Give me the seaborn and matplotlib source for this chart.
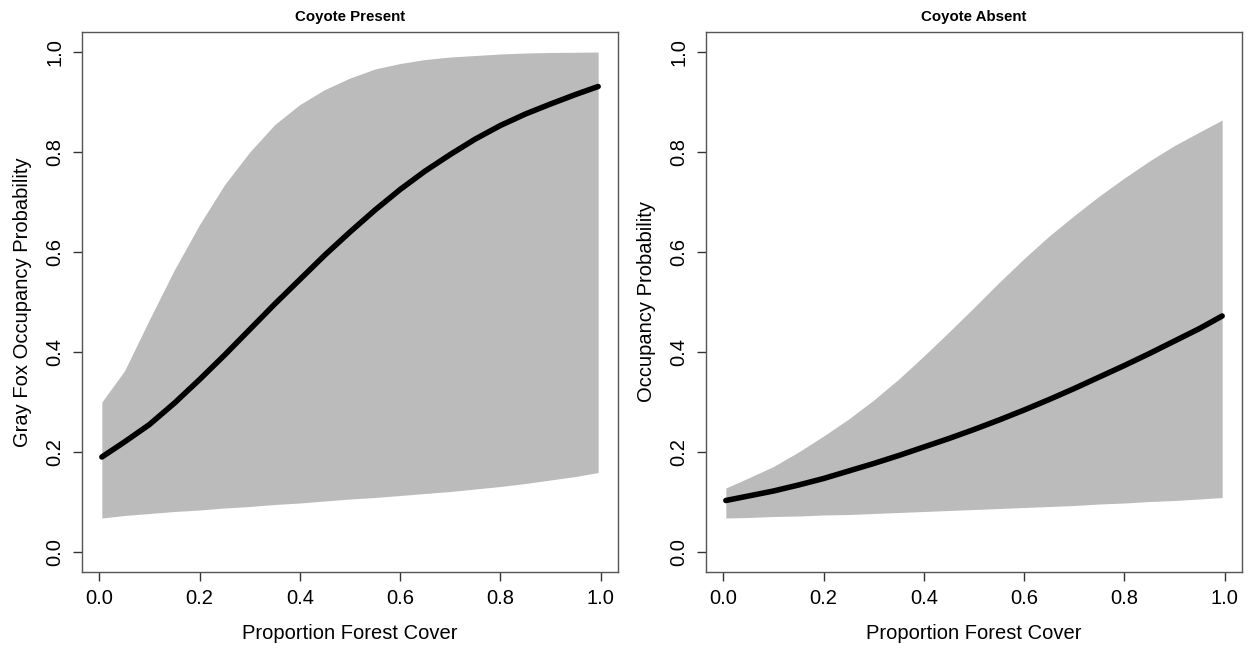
import numpy as np
import pandas as pd
import matplotlib
matplotlib.use("Agg")
import matplotlib.pyplot as plt
import seaborn as sns

# proportion forest cover grid
forest = [0.005, 0.05, 0.1, 0.15, 0.2, 0.25, 0.3, 0.35, 0.4, 0.45, 0.5,
          0.55, 0.6, 0.65, 0.7, 0.75, 0.8, 0.85, 0.9, 0.95, 0.995]

# coyote present
present_mean = [0.19, 0.22, 0.255, 0.298, 0.345, 0.394, 0.445, 0.496, 0.545, 0.594, 0.64,
                0.684, 0.725, 0.762, 0.795, 0.826, 0.853, 0.876, 0.896, 0.915, 0.931]
present_upper = [0.30, 0.362, 0.465, 0.565, 0.655, 0.735, 0.80, 0.855, 0.895, 0.925, 0.948,
                 0.966, 0.977, 0.985, 0.99, 0.993, 0.996, 0.998, 0.999, 0.9995, 1.0]
present_lower = [0.068, 0.073, 0.077, 0.081, 0.084, 0.088, 0.091, 0.095, 0.098, 0.102, 0.106,
                 0.109, 0.113, 0.117, 0.121, 0.126, 0.131, 0.137, 0.144, 0.151, 0.159]

# coyote absent
absent_mean = [0.103, 0.112, 0.122, 0.134, 0.147, 0.162, 0.177, 0.193, 0.21, 0.227, 0.245,
               0.264, 0.284, 0.305, 0.327, 0.35, 0.373, 0.397, 0.422, 0.447, 0.472]
absent_upper = [0.128, 0.148, 0.171, 0.2, 0.232, 0.266, 0.304, 0.346, 0.392, 0.44, 0.489,
                0.539, 0.587, 0.632, 0.673, 0.712, 0.748, 0.782, 0.813, 0.84, 0.864]
absent_lower = [0.068, 0.069, 0.071, 0.072, 0.074, 0.075, 0.077, 0.079, 0.081, 0.083, 0.085,
                0.087, 0.089, 0.091, 0.093, 0.096, 0.098, 0.101, 0.103, 0.106, 0.109]

ticks = [0.0, 0.2, 0.4, 0.6, 0.8, 1.0]
tick_labels = ["0.0", "0.2", "0.4", "0.6", "0.8", "1.0"]

sns.set_theme(style="white")
plt.rcParams['font.family'] = ['Liberation Sans', 'DejaVu Sans']
plt.rcParams['text.color'] = 'black'
plt.rcParams['axes.labelcolor'] = 'black'
plt.rcParams['xtick.color'] = 'black'
plt.rcParams['ytick.color'] = 'black'

fig = plt.figure(figsize=(12.49, 6.48), dpi=100)
ax_left = fig.add_axes([82 / 1249, 1 - 572 / 648, 536 / 1249, 540 / 648])
ax_right = fig.add_axes([706 / 1249, 1 - 572 / 648, 536 / 1249, 540 / 648])

panels = [
    (ax_left, present_mean, present_lower, present_upper, "Coyote Present",
     "Gray Fox Occupancy Probability"),
    (ax_right, absent_mean, absent_lower, absent_upper, "Coyote Absent",
     "Occupancy Probability"),
]

for ax, mean, lower, upper, title, ylabel in panels:
    df = pd.DataFrame({"forest": forest, "mean": mean, "lower": lower, "upper": upper})
    ax.fill_between(df["forest"], df["lower"], df["upper"], color="#BBBBBB", linewidth=0)
    sns.lineplot(data=df, x="forest", y="mean", ax=ax, color="black", linewidth=4,
                 solid_capstyle="round")

    # R style 4% padding
    xr = max(forest) - min(forest)
    ax.set_xlim(min(forest) - 0.04 * xr, max(forest) + 0.04 * xr)
    ax.set_ylim(-0.04, 1.04)

    ax.set_xticks(ticks)
    ax.set_xticklabels(tick_labels)
    ax.set_yticks(ticks)
    ax.set_yticklabels(tick_labels, rotation=90, va="center")
    ax.tick_params(axis="both", which="major", direction="out", length=6.5, width=1,
                   color="#333333", labelsize=14.5, pad=6, left=True, bottom=True)

    for spine in ax.spines.values():
        spine.set_color("#555555")
        spine.set_linewidth(1)

    ax.set_title(title, fontsize=10.8, fontweight="bold", pad=8)
    ax.set_xlabel("Proportion Forest Cover", fontsize=14.5, labelpad=11)
    ax.set_ylabel(ylabel, fontsize=14.5, labelpad=10)
    ax.grid(False)

fig.savefig("out.png", dpi=100, facecolor="white")
